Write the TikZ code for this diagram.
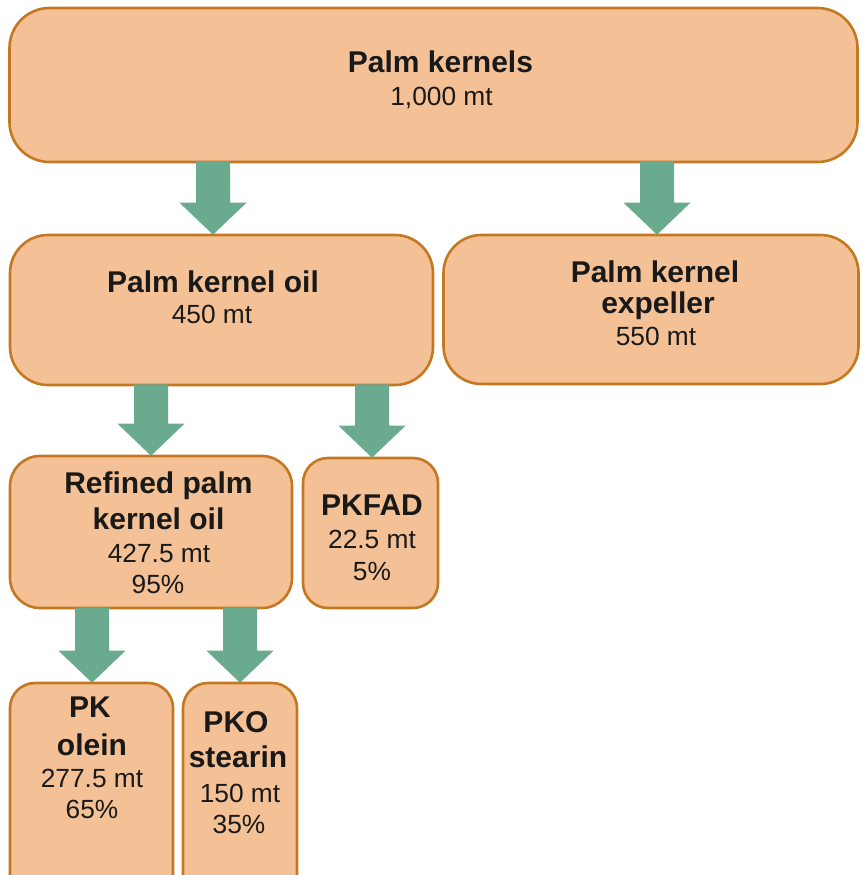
\documentclass[tikz,border=0pt]{standalone}
\usepackage{fontspec}
\setmainfont{Liberation Sans}
\usetikzlibrary{calc}
\definecolor{boxfill}{RGB}{244,193,150}
\definecolor{boxline}{RGB}{196,120,34}
\definecolor{arrowc}{RGB}{106,170,142}
\tikzset{
  box/.style={draw=boxline, fill=boxfill, line width=2.6pt, inner sep=0pt},
  bt/.style={font=\bfseries\fontsize{30}{36}\selectfont, anchor=base, inner sep=0pt, text=black!90},
  rt/.style={font=\fontsize{26.3}{31}\selectfont, anchor=base, inner sep=0pt, text=black!90},
}
\newcommand\fatarrow[3]{% #1 x, #2 from node, #3 to node
  \fill[arrowc]
    ($(#1,0 |- #2.south)+(-17pt,2pt)$) --
    ($(#1,0 |- #2.south)+(17pt,2pt)$) --
    ($(#1,0 |- #3.north)+(17pt,31pt)$) --
    ($(#1,0 |- #3.north)+(33.5pt,31pt)$) --
    ($(#1,0 |- #3.north)+(0pt,-1pt)$) --
    ($(#1,0 |- #3.north)+(-33.5pt,31pt)$) --
    ($(#1,0 |- #3.north)+(-17pt,31pt)$) -- cycle;}
\begin{document}
\begin{tikzpicture}[x=1pt,y=-1pt]
\clip (0,0) rectangle (862,875);
\fill[white] (0,0) rectangle (862,875);

% boxes
\node[box, rounded corners=40pt, minimum width=848pt, minimum height=154pt] (pk) at (433.5,85) {};
\node[box, rounded corners=38pt, minimum width=423pt, minimum height=150pt] (pko) at (221.5,310) {};
\node[box, rounded corners=38pt, minimum width=415pt, minimum height=149pt] (exp) at (651,309.5) {};
\node[box, rounded corners=30pt, minimum width=282pt, minimum height=152pt] (rpko) at (151,532) {};
\node[box, rounded corners=25pt, minimum width=135pt, minimum height=150pt] (pkfad) at (370.5,533) {};
\node[box, rounded corners=25pt, minimum width=163pt, minimum height=230pt] (olein) at (91.5,798) {};
\node[box, rounded corners=25pt, minimum width=114pt, minimum height=230pt] (stearin) at (240,798) {};

% arrows
\fatarrow{213}{pk}{pko}
\fatarrow{657}{pk}{exp}
\fatarrow{151}{pko}{rpko}
\fatarrow{372}{pko}{pkfad}
\fatarrow{92}{rpko}{olein}
\fatarrow{240}{rpko}{stearin}

% texts
\node[bt] (pk1) at (440.5,73) {Palm kernels};
\node[rt] (pk2) at (441.5,105) {1,000 mt};

\node[bt] (pko1) at (213,292) {Palm kernel oil};
\node[rt] (pko2) at (212,323) {450 mt};

\node[bt] (exp1) at (655,282) {Palm kernel};
\node[bt] (exp2) at (658,313) {expeller};
\node[rt] (exp3) at (656,345) {550 mt};

\node[bt] (rpko1) at (158.5,493) {Refined palm};
\node[bt] (rpko2) at (158.5,529) {kernel oil};
\node[rt] (rpko3) at (159,562) {427.5 mt};
\node[rt] (rpko4) at (158,593) {95\%};

\node[bt] (pkfad1) at (372,515) {PKFAD};
\node[rt] (pkfad2) at (372,548) {22.5 mt};
\node[rt] (pkfad3) at (372,580) {5\%};

\node[bt] (ol1) at (90,717) {PK};
\node[bt] (ol2) at (92,755) {olein};
\node[rt] (ol3) at (92,787) {277.5 mt};
\node[rt] (ol4) at (92,818) {65\%};

\node[bt] (st1) at (236,732) {PKO};
\node[bt] (st2) at (238,767) {stearin};
\node[rt] (st3) at (240,802) {150 mt};
\node[rt] (st4) at (239,833) {35\%};
\end{tikzpicture}
\end{document}
